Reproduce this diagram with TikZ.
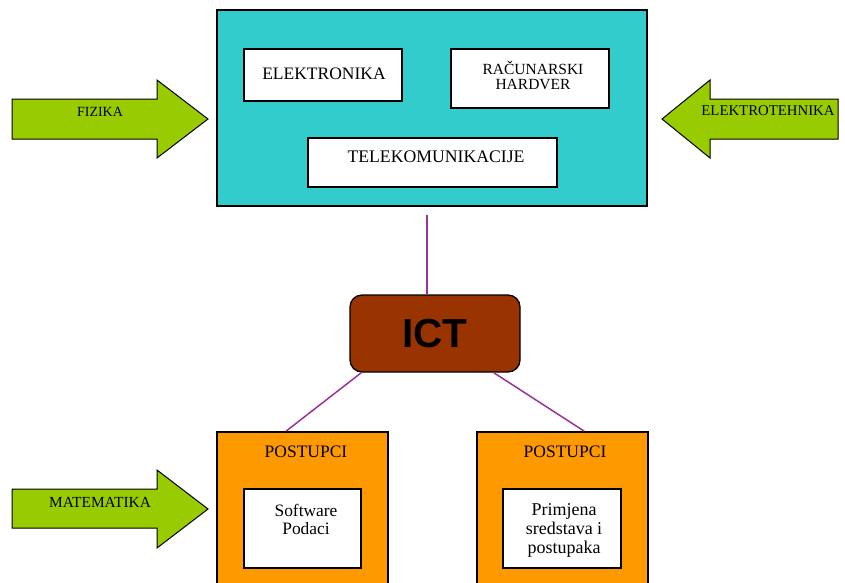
\documentclass[tikz,border=0pt]{standalone}
\usepackage{fontspec}
\setmainfont{Liberation Serif}
\newfontfamily\sansfnt{Liberation Sans}
\usetikzlibrary{calc}
\definecolor{boxcyan}{HTML}{33CCCC}
\definecolor{arrowgreen}{HTML}{99CC00}
\definecolor{boxorange}{HTML}{FF9900}
\definecolor{ictbrown}{HTML}{993300}
\definecolor{linkpurple}{HTML}{993399}
\begin{document}
\begin{tikzpicture}[x=1pt,y=-1pt,
  bigbox/.style={draw, line width=1.8pt, inner sep=0pt},
  wbox/.style={draw, fill=white, line width=1.8pt, inner sep=0pt},
  boxtxt/.style={font=\fontsize{17.5}{15}\selectfont, align=center, inner sep=0pt},
  arrowtxt/.style={font=\fontsize{14}{14}\selectfont, inner sep=0pt},
  conn/.style={draw=linkpurple, line width=1.5pt},
  arr/.style={draw, line width=1pt, fill=arrowgreen, line join=miter},
  ictbox/.style={draw, line width=1.3pt, fill=ictbrown, rounded corners=12pt, inner sep=0pt,
    font=\sansfnt\bfseries\fontsize{40.5}{40.5}\selectfont}
]
\useasboundingbox (0,0) rectangle (845,582);
\clip (0,0) rectangle (845,582);

% top cyan block
\node[bigbox, fill=boxcyan, minimum width=430pt, minimum height=196pt] (cyan) at (432,108) {};
\node[wbox, minimum width=158pt, minimum height=52pt] (elek) at (323,75) {};
\node[boxtxt] (elektxt) at (324,73.5) {ELEKTRONIKA};
\node[wbox, minimum width=158pt, minimum height=59pt] (rac) at (530,78.5) {};
\node[boxtxt, font=\fontsize{15.5}{15}\selectfont] (ractxt) at (533,75) {RAČUNARSKI\\HARDVER};
\node[wbox, minimum width=249pt, minimum height=49pt] (tele) at (432.5,162.5) {};
\node[boxtxt, font=\fontsize{17.7}{15}\selectfont] (teletxt) at (436,157) {TELEKOMUNIKACIJE};

% green arrows
\draw[arr] (12,99) -- (157,99) -- (157,80) -- (208,119) -- (157,158) -- (157,139) -- (12,139) -- cycle;
\node[arrowtxt] (fizika) at (100,112) {FIZIKA};
\draw[arr] (838,99) -- (710,99) -- (710,80) -- (662,119) -- (710,158) -- (710,139) -- (838,139) -- cycle;
\node[arrowtxt, font=\fontsize{14.8}{14}\selectfont] (elteh) at (768,111) {ELEKTROTEHNIKA};
\draw[arr] (12,489) -- (157,489) -- (157,470) -- (208,509) -- (157,548) -- (157,528) -- (12,528) -- cycle;
\node[arrowtxt, font=\fontsize{15.4}{14}\selectfont] (matem) at (100,502) {MATEMATIKA};

% ICT
\node[ictbox, minimum width=170pt, minimum height=77pt] (ict) at (435,333.5) {ICT};

% bottom orange blocks
\node[bigbox, fill=boxorange, minimum width=171pt, minimum height=168pt] (pl) at (302.5,516) {};
\node[boxtxt] (pltxt) at (306,452) {POSTUPCI};
\node[wbox, minimum width=117pt, minimum height=79pt] (sw) at (302.5,528.5) {};
\node[boxtxt, font=\fontsize{17.4}{18}\selectfont] (swtxt) at (306,519) {Software\\Podaci};

\node[bigbox, fill=boxorange, minimum width=171pt, minimum height=168pt] (pr) at (562.5,516) {};
\node[boxtxt] (prtxt) at (565,452) {POSTUPCI};
\node[wbox, minimum width=118pt, minimum height=79pt] (prim) at (562,528.5) {};
\node[boxtxt, font=\fontsize{18}{19}\selectfont] (primtxt) at (564,530) {Primjena\\sredstava i\\postupaka};

% connectors
\coordinate (topend) at (427,215);
\draw[conn] (topend) -- (topend |- ict.north);
\draw[conn] ($(ict.south west)+(12,0)$) -- ($(pl.north west)+(70,0)$);
\draw[conn] ($(ict.south east)+(-27,0)$) -- ($(pr.north west)+(108,0)$);
\end{tikzpicture}
\end{document}
